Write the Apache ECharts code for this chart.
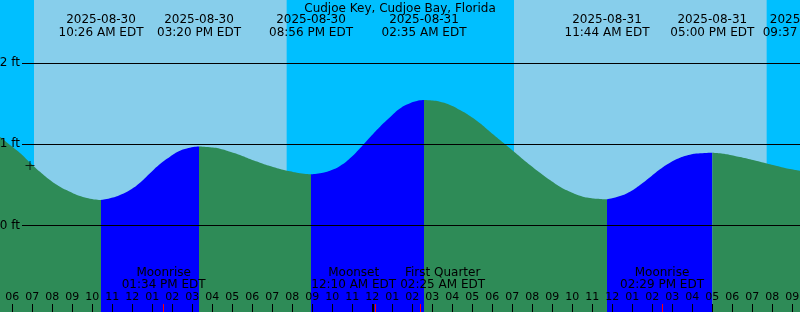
<!DOCTYPE html>
<html><head><meta charset="utf-8">
<script src="https://cdn.jsdelivr.net/npm/echarts@6/dist/echarts.min.js"></script>
<style>html,body{margin:0;padding:0;background:#00BFFF}#c{width:800px;height:312px}</style>
</head><body><div id="c"></div>
<script>
const chartTitle = 'Cudjoe Key, Cudjoe Bay, Florida';
const year = '2025';
const tz = 'EDT';
const viewStart = '08-30 05:23';
const viewHours = 40;

// tide level samples (feet)
const sampleTimes = [
 '08-30 05:23','08-30 05:53','08-30 06:23','08-30 06:53','08-30 07:23','08-30 07:53','08-30 08:23','08-30 08:53','08-30 09:23','08-30 09:53',
 '08-30 10:53','08-30 11:23','08-30 11:53','08-30 12:23','08-30 12:53','08-30 13:23','08-30 13:53','08-30 14:23','08-30 14:53',
 '08-30 15:53','08-30 16:23','08-30 16:53','08-30 17:23','08-30 17:53','08-30 18:23','08-30 18:53','08-30 19:23','08-30 19:53','08-30 20:23',
 '08-30 21:23','08-30 21:53','08-30 22:23','08-30 22:53','08-30 23:23','08-30 23:53','08-31 00:23','08-31 00:53','08-31 01:23','08-31 01:53','08-31 02:23',
 '08-31 02:53','08-31 03:23','08-31 03:53','08-31 04:23','08-31 04:53','08-31 05:23','08-31 05:53','08-31 06:23','08-31 06:53','08-31 07:23',
 '08-31 07:53','08-31 08:23','08-31 08:53','08-31 09:23','08-31 09:53','08-31 10:23','08-31 10:53','08-31 11:23',
 '08-31 12:23','08-31 12:53','08-31 13:23','08-31 13:53','08-31 14:23','08-31 14:53','08-31 15:23','08-31 15:53','08-31 16:23',
 '08-31 17:23','08-31 17:53','08-31 18:23','08-31 18:53','08-31 19:23','08-31 19:53','08-31 20:23','08-31 20:53','08-31 21:23'
];
const sampleFt = [
 1.093,0.991,0.893,0.775,0.663,0.561,0.479,0.418,0.365,0.332,
 0.337,0.377,0.439,0.528,0.644,0.758,0.848,0.921,0.958,
 0.963,0.946,0.909,0.869,0.819,0.774,0.733,0.697,0.668,0.644,
 0.644,0.676,0.733,0.828,0.951,1.086,1.216,1.332,1.440,1.504,1.541,
 1.540,1.523,1.483,1.421,1.348,1.258,1.155,1.053,0.951,0.848,
 0.746,0.651,0.561,0.479,0.418,0.369,0.340,0.328,
 0.365,0.418,0.500,0.595,0.693,0.774,0.835,0.872,0.889,
 0.889,0.869,0.844,0.816,0.786,0.754,0.725,0.697,0.676
];
// high / low tides
const extremeTimes = ['08-30 10:26','08-30 15:20','08-30 20:56','08-31 02:35','08-31 11:44','08-31 17:00','08-31 21:37'];
const extremeFt    = [0.316, 0.972, 0.631, 1.546, 0.325, 0.897, 0.672];
const extremeType  = ['low','high','low','high','low','high','low'];
// sun
const sunriseTimes = ['08-30 07:05','08-31 07:05'];
const sunsetTimes  = ['08-30 19:43','08-31 19:43'];
// moon
const moonTimes  = ['08-30 13:34','08-31 00:10','08-31 02:25','08-31 14:29'];
const moonEvents = ['Moonrise','Moonset','First Quarter','Moonrise'];
// current-time marker
const nowTime = '08-30 06:53';
const nowFt = 0.74;
// axis ticks
const hourLabels = ['06','07','08','09','10','11','12','01','02','03','04','05','06','07','08','09','10','11',
 '12','01','02','03','04','05','06','07','08','09','10','11','12','01','02','03','04','05','06','07','08','09'];
const firstHour = '08-30 06:00';
const levelTicks = [0, 1, 2];

const FONT = 'DejaVu Sans';
const C_NIGHT = '#00BFFF', C_DAY = '#87CEEB', C_FLOOD = '#0000FF', C_EBB = '#2E8B57';

function toH(s){const [d,hm]=s.split(' ');const day=+d.split('-')[1]-30;const [h,m]=hm.split(':').map(Number);return day*24+h+m/60;}
function pad(n){return (n<10?'0':'')+n;}
function fmtTime(s){const hm=s.split(' ')[1];const [h,m]=hm.split(':').map(Number);return pad(h%12||12)+':'+pad(m)+' '+(h<12?'AM':'PM')+' '+tz;}
function fmtDate(s){return year+'-'+s.split(' ')[0];}

const xMin = toH(viewStart);
const xMax = xMin + viewHours + 1; // grid runs 20px past the right edge
const yMin = -1.06, yMax = 2.773;

const hourVals = hourLabels.map((_, i) => toH(firstHour) + i);
const midnightVals = hourVals.filter(h => h % 24 === 0);
const moonVals = moonTimes.map(toH);
const extVals = extremeTimes.map(toH);

// merge samples and extremes, split into rising / falling segments
const pts = sampleTimes.map((t,i)=>[toH(t), sampleFt[i]])
  .concat(extremeTimes.map((t,i)=>[toH(t), extremeFt[i]]))
  .sort((a,b)=>a[0]-b[0]);
const segments = [];
let start = -Infinity;
extVals.forEach((e, i) => {
  segments.push({
    data: pts.filter(p => p[0] >= start && p[0] <= e),
    color: extremeType[i] === 'high' ? C_FLOOD : C_EBB
  });
  start = e;
});

const chart = echarts.init(document.getElementById('c'), null, {renderer:'canvas'});

function build(shifts){
  const rich = {};
  moonVals.forEach((v,i)=>{
    const s = shifts[i] || 0;
    rich['m'+i] = {fontSize:12, fontFamily:FONT, color:'#000', lineHeight:12,
      padding:[0, s<0 ? -2*s : 0, 0, s>0 ? 2*s : 0]};
  });
  const series = [];
  series.push({type:'line', xAxisIndex:0, yAxisIndex:0, data:[[xMin,yMin]], symbol:'none',
    lineStyle:{opacity:0}, silent:true, z:1,
    markArea:{silent:true, itemStyle:{color:C_DAY}, data: sunriseTimes.map((s,i)=>[{xAxis:toH(s)},{xAxis:toH(sunsetTimes[i])}])}});
  segments.forEach(seg=>{
    series.push({type:'line', xAxisIndex:0, yAxisIndex:0, data:seg.data, smooth:0.5, symbol:'none',
      lineStyle:{width:0}, areaStyle:{color:seg.color, opacity:1, origin:'start'}, silent:true, z:2});
  });
  series.push({type:'scatter', xAxisIndex:0, yAxisIndex:0, data:[[toH(nowTime), nowFt]],
    symbol:'path://M4,0h1v9h-1z M0,4h9v1h-9z', symbolSize:9, itemStyle:{color:'#000'}, silent:true, z:6});
  series.push({type:'line', xAxisIndex:4, yAxisIndex:1, data:[[xMin,yMin]], symbol:'none',
    lineStyle:{opacity:0}, silent:true, z:10,
    markLine:{silent:true, symbol:['none','none'], animation:false,
      label:{position:'start', distance:2, formatter:p=>p.value+' ft', color:'#000', fontSize:12, fontFamily:FONT},
      lineStyle:{color:'#000', width:1, type:'solid'},
      data: levelTicks.map(v=>({yAxis:v}))}});

  const baseX = {type:'value', min:xMin, max:xMax, splitLine:{show:false}, axisLine:{show:false, onZero:false}};
  return {
    animation:false,
    backgroundColor:C_NIGHT,
    title:{text:chartTitle, left:'center', top:-2, textStyle:{fontSize:12, fontWeight:'normal', fontFamily:FONT, color:'#000'}},
    grid:[{left:0, right:-20, top:0, bottom:0, containLabel:false, outerBoundsMode:'none'},
          {left:22, right:0, top:0, bottom:0, containLabel:false, outerBoundsMode:'none'}],
    xAxis:[
      Object.assign({}, baseX, {gridIndex:0, position:'bottom', z:8,
        axisTick:{show:true, inside:true, length:8, customValues:hourVals, lineStyle:{color:'#000', width:1}},
        axisLabel:{inside:true, margin:8.5, customValues:hourVals, lineHeight:12,
          formatter:v=>hourLabels[Math.round(v - hourVals[0])], fontSize:11, fontFamily:FONT, color:'#000'}}),
      Object.assign({}, baseX, {gridIndex:0, position:'bottom', z:8,
        axisTick:{show:true, inside:true, length:8, customValues:midnightVals, lineStyle:{color:'#000', width:2}},
        axisLabel:{show:false}}),
      Object.assign({}, baseX, {gridIndex:0, position:'bottom', z:9,
        axisTick:{show:true, inside:true, length:8, customValues:moonVals, lineStyle:{color:'#FF0000', width:1}},
        axisLabel:{inside:true, margin:21, customValues:moonVals, lineHeight:12, fontSize:12, fontFamily:FONT, color:'#000',
          formatter:v=>{const i=moonVals.findIndex(m=>Math.abs(m-v)<1e-6);return '{m'+i+'|'+moonEvents[i]+'}\n{m'+i+'|'+fmtTime(moonTimes[i])+'}';},
          rich:rich}}),
      Object.assign({}, baseX, {gridIndex:0, position:'top', z:9,
        axisTick:{show:false},
        axisLabel:{inside:true, margin:13, customValues:extVals, lineHeight:13, fontSize:12, fontFamily:FONT, color:'#000',
          formatter:v=>{const i=extVals.findIndex(m=>Math.abs(m-v)<1e-6);return fmtDate(extremeTimes[i])+'\n'+fmtTime(extremeTimes[i]);}}}),
      Object.assign({}, baseX, {gridIndex:1, show:false, max:xMin+viewHours})
    ],
    yAxis:[
      {gridIndex:0, type:'value', min:yMin, max:yMax, show:false, splitLine:{show:false}},
      {gridIndex:1, type:'value', min:yMin, max:yMax, show:false, splitLine:{show:false}}
    ],
    series:series
  };
}

chart.setOption(build([]));

// push overlapping moon labels apart
const ctx = document.createElement('canvas').getContext('2d');
ctx.font = '12px "' + FONT + '"';
const items = moonVals.map((v,i)=>({i, x:chart.convertToPixel({xAxisIndex:2}, v),
  w:Math.max(ctx.measureText(moonEvents[i]).width, ctx.measureText(fmtTime(moonTimes[i])).width)}));
items.sort((a,b)=>a.x-b.x);
const shifts = new Array(moonVals.length).fill(0);
for (let k=0;k<items.length-1;k++){
  const a=items[k], b=items[k+1];
  const ov = (a.x + shifts[a.i] + a.w/2 + 4) - (b.x + shifts[b.i] - b.w/2);
  if (ov > 0){ shifts[a.i] -= ov/2; shifts[b.i] += ov/2; }
}
chart.setOption(build(shifts), true);
</script></body></html>
